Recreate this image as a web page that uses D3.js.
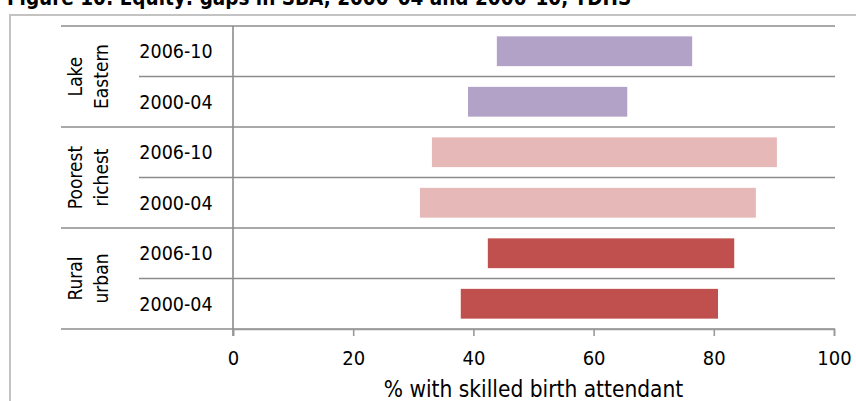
<!DOCTYPE html>
<html>
<head>
<meta charset="utf-8">
<script src="https://cdn.jsdelivr.net/npm/d3@7"></script>
<style>
  html, body { margin: 0; padding: 0; background: #fff; }
  svg { display: block; }
  text { font-family: "Liberation Sans Narrow", "Arial Narrow", "DejaVu Sans Condensed", sans-serif; fill: #000; }
</style>
</head>
<body>
<svg id="chart" width="856" height="401"></svg>
<script>
// ---- data ----
const titleText = "Figure 10: Equity: gaps in SBA, 2000–04 and 2006–10, TDHS";
const axisTitle = "% with skilled birth attendant";
const groups = ["Lake Eastern", "Poorest richest", "Rural urban"];
const groupLabelLines = [["Lake", "Eastern"], ["Poorest", "richest"], ["Rural", "urban"]];
const periods = ["2006-10", "2000-04"];
const groupColors = ["#B3A2C7", "#E6B9B8", "#C0504D"];
// low / high value of each gap, per group, in the order of periods
const lowValues  = [[43.9, 39.1], [33.1, 31.1], [42.4, 37.9]];
const highValues = [[76.4, 65.6], [90.5, 87.0], [83.4, 80.7]];
const xTicks = [0, 20, 40, 60, 80, 100];

(function draw() {
  const rows = [];
  groups.forEach((g, gi) => {
    periods.forEach((p, pi) => {
      rows.push({ key: g + "|" + p, group: g, gi, period: p, pi,
                  low: lowValues[gi][pi], high: highValues[gi][pi], color: groupColors[gi] });
    });
  });

  const svg = d3.select("#chart");
  const pTop = 26, pBottom = 329, pLeft = 233, pRight = 834;

  const x = d3.scaleLinear().domain([0, 100]).range([pLeft, pRight]);
  const y = d3.scaleBand().domain(rows.map(r => r.key)).range([pTop, pBottom])
    .paddingInner(0.41).paddingOuter(0.205);
  const step = y.step();
  const rowTop = k => y(k) - step * y.paddingInner() / 2;

  // outer frame
  svg.append("rect").attr("x", 10).attr("y", 15).attr("width", 900).attr("height", 450)
    .attr("fill", "none").attr("stroke", "#c3c3c3").attr("stroke-width", 2);

  // title (cut off at top, as in the source image)
  svg.append("text").attr("x", 7).attr("y", 5)
    .attr("font-weight", "bold").attr("font-size", 20.5).text(titleText);

  // bars
  svg.append("g").selectAll("rect").data(rows).join("rect")
    .attr("x", d => x(d.low))
    .attr("width", d => x(d.high) - x(d.low))
    .attr("y", d => y(d.key))
    .attr("height", y.bandwidth())
    .attr("fill", d => d.color);

  // row divider lines
  const lineColor = "#8c8c8c";
  const dividers = rows.map(r => ({ yv: rowTop(r.key), x1: r.pi === 0 ? 61 : 139 }));
  dividers.push({ yv: pBottom, x1: 61 });
  svg.append("g").selectAll("line").data(dividers).join("line")
    .attr("x1", d => d.x1).attr("x2", pRight + 1)
    .attr("y1", d => d.yv).attr("y2", d => d.yv)
    .attr("stroke", lineColor).attr("stroke-width", 1.6);

  // vertical axis line
  svg.append("line").attr("x1", pLeft).attr("x2", pLeft).attr("y1", pTop).attr("y2", pBottom + 7)
    .attr("stroke", lineColor).attr("stroke-width", 1.6);

  // x axis
  const xAxis = d3.axisBottom(x).tickValues(xTicks).tickSize(7).tickPadding(15).tickFormat(d3.format("d"));
  const ax = svg.append("g").attr("transform", `translate(0,${pBottom})`).call(xAxis);
  ax.attr("font-family", null).attr("font-size", null);
  ax.select(".domain").attr("stroke", "#9a9a9a").attr("stroke-width", 1.6);
  ax.selectAll(".tick line").attr("stroke", "#9a9a9a").attr("stroke-width", 1.6);
  ax.selectAll(".tick text").attr("font-size", 20).attr("fill", "#000");

  // axis title
  svg.append("text").attr("x", (pLeft + pRight) / 2).attr("y", 397)
    .attr("text-anchor", "middle").attr("font-size", 22.5).text(axisTitle);

  // period labels
  svg.append("g").selectAll("text").data(rows).join("text")
    .attr("x", 176).attr("y", d => y(d.key) + y.bandwidth() / 2)
    .attr("dy", "0.36em").attr("text-anchor", "middle").attr("font-size", 19.5)
    .text(d => d.period);

  // group labels (rotated, two lines)
  groups.forEach((g, gi) => {
    const r0 = rows.find(r => r.gi === gi && r.pi === 0);
    const cy = rowTop(r0.key) + step;
    const t = svg.append("text").attr("transform", `translate(88,${cy}) rotate(-90)`)
      .attr("text-anchor", "middle").attr("font-size", 19);
    groupLabelLines[gi].forEach((ln, li) => {
      t.append("tspan").attr("x", 0).attr("y", li === 0 ? -6 : 20).text(ln);
    });
  });
})();
</script>
</body>
</html>
